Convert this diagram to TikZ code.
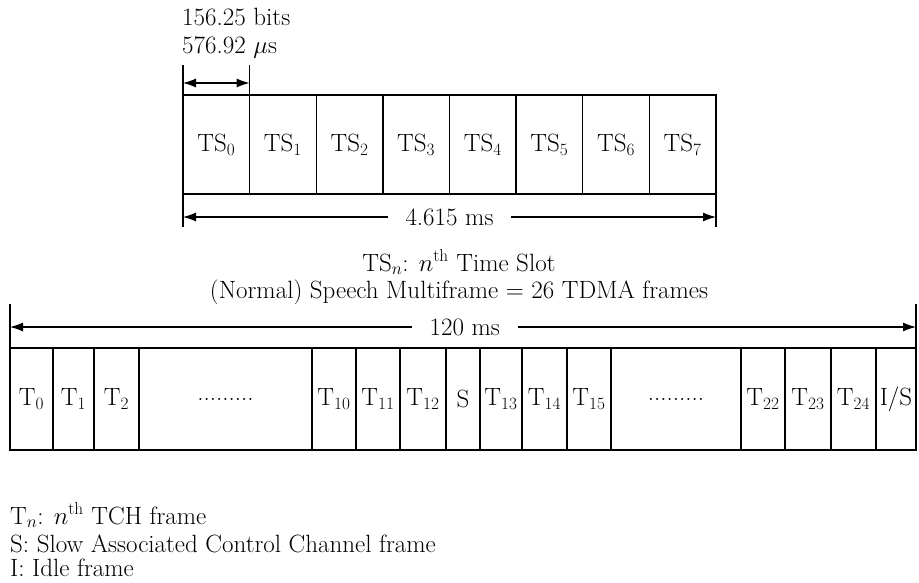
\documentclass[tikz,border=0pt]{standalone}
\usetikzlibrary{arrows.meta}
\newcommand\framedots{.........}
\begin{document}
\begin{tikzpicture}[x=1pt,y=-1pt,
  every node/.style={font=\fontsize{25}{28}\selectfont},
  cellbox/.style={draw,line width=1.4pt,inner sep=0pt,outer sep=0pt,minimum height=99pt},
  fbox/.style={draw,line width=1.4pt,inner sep=0pt,outer sep=0pt,minimum height=102pt},
  dimline/.style={line width=1.1pt,{Latex[length=13pt,width=9pt]}-{Latex[length=13pt,width=9pt]}},
  tick/.style={line width=1.1pt},
  lbl/.style={inner sep=0pt},
  gaplbl/.style={fill=white,inner xsep=18pt,inner ysep=2pt}]
\useasboundingbox (0,0) rectangle (919,582);
% top frame
\foreach \i in {0,1,2,3,4,5,6,7}
  \node[cellbox,minimum width=66.625pt] (ts\i) at ({183+66.625*\i+33.3125},144.5) {TS$_{\i}$};
% small arrow
\coordinate (st) at (183,65);
\draw[tick] (ts0.north west) -- (ts0.north west |- st);
\draw[tick] (ts0.north east) -- (ts0.north east |- st);
\path (ts0.north west) ++(0,-12) coordinate (sa1) (ts0.north east) ++(0,-12) coordinate (sa2);
\draw[dimline] (sa1) -- (sa2);
\node[lbl,anchor=base west] (bits) at (182,25) {156.25 bits};
\node[lbl,anchor=base west] (us) at (182,53) {576.92 $\mu$s};
% 4.615 ms
\path (ts0.south west) ++(0,33) coordinate (b0) (ts7.south east) ++(0,33) coordinate (b7);
\draw[tick] (ts0.south west) -- (b0);
\draw[tick] (ts7.south east) -- (b7);
\path (ts0.south west) ++(0,23) coordinate (ba1) (ts7.south east) ++(0,23) coordinate (ba2);
\draw[dimline] (ba1) -- node[gaplbl,pos=0.5] (d1) {4.615 ms} (ba2);
% titles
\node[lbl,anchor=base] (tsn) at (459,271) {TS$_n$: $n^{\mathrm{th}}$ Time Slot};
\node[lbl,anchor=base] (smf) at (459,298) {(Normal) Speech Multiframe = 26 TDMA frames};
% multiframe
\foreach \l/\r/\t [count=\k] in {10/53/T$_0$,53/94/T$_1$,94/139/T$_2$,139/312/\framedots,312/356/T$_{10}$,356/400/T$_{11}$,400/446/T$_{12}$,446/480/S,480/522/T$_{13}$,522/567/T$_{14}$,567/611/T$_{15}$,611/741/\framedots,741/785/T$_{22}$,785/831/T$_{23}$,831/876/T$_{24}$,876/916/{I/S}}{
  \pgfmathsetmacro\w{\r-\l}
  \pgfmathsetmacro\c{(\l+\r)/2}
  \node[fbox,minimum width=\w pt] (f\k) at (\c,399) {\t};
}
\path (f1.north west) ++(0,-44) coordinate (m0) (f16.north east) ++(0,-44) coordinate (m1);
\draw[tick] (f1.north west) -- (m0);
\draw[tick] (f16.north east) -- (m1);
\path (f1.north west) ++(0,-21) coordinate (ma1) (f16.north east) ++(0,-21) coordinate (ma2);
\draw[dimline] (ma1) -- node[gaplbl,pos=0.502] (d2) {120 ms} (ma2);
% legend
\node[lbl,anchor=base west] (lg1) at (10,524) {T$_n$: $n^{\mathrm{th}}$ TCH frame};
\node[lbl,anchor=base west] (lg2) at (10,552) {S: Slow Associated Control Channel frame};
\node[lbl,anchor=base west] (lg3) at (10,576) {I: Idle frame};
\end{tikzpicture}
\end{document}
